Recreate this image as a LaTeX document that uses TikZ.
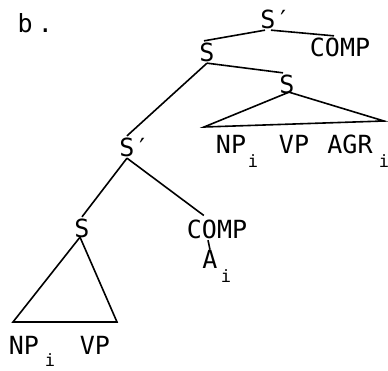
\documentclass[tikz,border=0pt]{standalone}
\usepackage{fontspec}
\newfontfamily\plotfont{DejaVu Sans Mono}
\begin{document}
\begin{tikzpicture}[x=1pt,y=-1pt,
  lab/.style={font=\plotfont\fontsize{25}{30}\selectfont,inner sep=1.5pt},
  sub/.style={font=\plotfont\fontsize{17}{20}\selectfont,inner sep=0pt},
  edge/.style={line width=1.6pt}]
\useasboundingbox (0,0) rectangle (388,370);
% labels
\node[lab,anchor=base west] (b) at (16,32) {b\kern5pt.};
\node[lab] (sp1) at (268,19) {S\rlap{′}};
\node[lab] (comp1) at (340,47) {COMP};
\node[lab] (s1) at (207,52) {S};
\node[lab] (s2) at (287,84) {S};
\node[lab] (np1) at (231,144) {NP};
\node[sub] (i1) at (253,161) {i};
\node[lab] (vp1) at (294,144) {VP};
\node[lab] (agr1) at (350,144) {AGR};
\node[sub] (i2) at (384,161) {i};
\node[lab] (sp2) at (127,147) {S\rlap{′}};
\node[lab] (s3) at (82,228) {S};
\node[lab] (comp2) at (217,229) {COMP};
\node[lab,inner sep=0pt] (a) at (210,259) {A};
\node[sub] (i3) at (226,276) {i};
\node[lab] (np2) at (24,345) {NP};
\node[sub] (i4) at (50,360) {i};
\node[lab] (vp2) at (95,345) {VP};
% triangle corners
\coordinate (t1l) at (204,127);
\coordinate (t1r) at (384,121);
\coordinate (t2l) at (13,322);
\coordinate (t2r) at (117,322);
% branches
\draw[edge] ([xshift=-3pt]sp1.south) -- ([xshift=-3pt]s1.north);
\draw[edge] ([xshift=3pt]sp1.south) -- ([xshift=-6pt]comp1.north);
\draw[edge] (s1.south) -- ([xshift=-4pt]s2.north);
\draw[edge] (s1.south) -- (sp2.north);
\draw[edge] (sp2.south) -- (s3.north);
\draw[edge,shorten >=4pt] (sp2.south) -- ([xshift=-10pt]comp2.north);
\draw[edge] ([xshift=-9pt]comp2.south) -- (a.north);
\draw[edge] ([xshift=2pt,yshift=3pt]s2.south) -- (t1l) -- (t1r) -- cycle;
\draw[edge] ([xshift=-2pt,yshift=2pt]s3.south) -- (t2l) -- (t2r) -- cycle;
\end{tikzpicture}
\end{document}
